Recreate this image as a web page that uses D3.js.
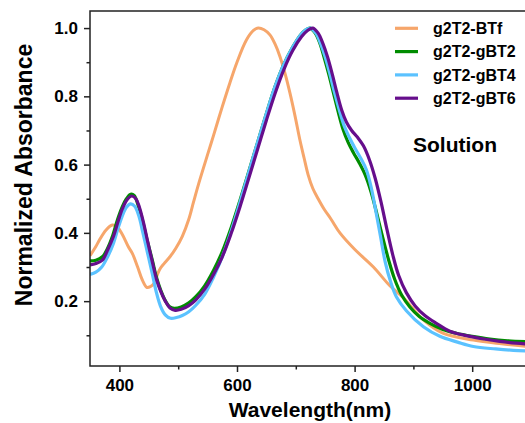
<!DOCTYPE html>
<html lang="en">
<head>
  <meta charset="UTF-8">
  <script src="https://d3js.org/d3.v7.min.js"></script>
  <style>
    body { margin: 0; background: #fff; }
    text { font-family: "Liberation Sans", Arial, sans-serif; font-weight: bold; fill: #000; }
  </style>
</head>
<body>
  <svg id="chart" width="525" height="423"></svg>
  <script>
    // data
    const btfWl = [350, 360, 366, 377, 388, 396, 405, 415, 422, 431, 439, 447, 453, 459, 465, 470, 476, 486, 496, 507, 518, 526, 535, 551, 560, 575, 588, 600, 616, 628, 636, 646, 656, 665, 673, 682, 690, 699, 707, 714, 721, 729, 738, 748, 760, 775, 800, 832, 860, 883, 917, 950, 1002, 1050, 1100];
    const btfAbs = [0.333, 0.36, 0.379, 0.408, 0.423, 0.418, 0.395, 0.36, 0.34, 0.30, 0.262, 0.24, 0.243, 0.252, 0.28, 0.297, 0.31, 0.33, 0.355, 0.39, 0.44, 0.49, 0.545, 0.635, 0.685, 0.77, 0.84, 0.9, 0.965, 0.993, 1.0, 0.995, 0.98, 0.952, 0.917, 0.865, 0.81, 0.74, 0.672, 0.62, 0.57, 0.53, 0.50, 0.47, 0.44, 0.40, 0.352, 0.30, 0.245, 0.21, 0.145, 0.106, 0.086, 0.075, 0.066];

    const gbt2Wl = [350, 360, 371, 380, 388, 397, 405, 412, 419, 425, 432, 439, 447, 456, 463, 470, 477, 485, 493, 505, 518, 530, 545, 560, 575, 590, 605, 620, 635, 650, 665, 680, 695, 708, 717, 724, 733, 741, 748, 756, 764, 772, 780, 789, 798, 808, 818, 828, 838, 848, 858, 868, 880, 894, 910, 928, 950, 973, 1000, 1030, 1060, 1100];
    const gbt2Abs = [0.318, 0.32, 0.33, 0.355, 0.389, 0.44, 0.477, 0.50, 0.513, 0.51, 0.48, 0.438, 0.38, 0.32, 0.27, 0.233, 0.205, 0.184, 0.179, 0.183, 0.195, 0.213, 0.245, 0.29, 0.345, 0.415, 0.495, 0.58, 0.665, 0.75, 0.83, 0.895, 0.945, 0.98, 0.995, 1.0, 0.985, 0.955, 0.915, 0.865, 0.81, 0.755, 0.705, 0.665, 0.635, 0.605, 0.57, 0.52, 0.455, 0.385, 0.32, 0.265, 0.218, 0.183, 0.155, 0.135, 0.117, 0.106, 0.097, 0.089, 0.084, 0.081];

    const gbt4Wl = [350, 360, 370, 380, 390, 398, 405, 412, 419, 426, 433, 440, 448, 456, 463, 470, 478, 487, 497, 507, 518, 530, 545, 560, 575, 590, 605, 620, 635, 650, 665, 680, 695, 708, 717, 725, 734, 742, 750, 758, 766, 774, 782, 791, 800, 810, 820, 828, 836, 844, 852, 861, 871, 888, 917, 945, 975, 1002, 1040, 1070, 1100];
    const gbt4Abs = [0.278, 0.285, 0.30, 0.33, 0.37, 0.415, 0.45, 0.475, 0.485, 0.478, 0.45, 0.40, 0.34, 0.28, 0.225, 0.185, 0.16, 0.15, 0.152, 0.158, 0.169, 0.188, 0.22, 0.27, 0.33, 0.405, 0.49, 0.578, 0.665, 0.75, 0.83, 0.895, 0.945, 0.98, 0.995, 1.0, 0.985, 0.955, 0.915, 0.865, 0.81, 0.76, 0.715, 0.68, 0.65, 0.62, 0.585, 0.535, 0.465, 0.39, 0.315, 0.258, 0.213, 0.172, 0.125, 0.097, 0.08, 0.067, 0.06, 0.056, 0.054];

    const gbt6Wl = [350, 360, 371, 380, 390, 398, 405, 413, 421, 428, 434, 441, 448, 456, 463, 470, 478, 486, 495, 505, 518, 530, 545, 560, 575, 590, 605, 620, 635, 650, 665, 680, 695, 710, 720, 729, 738, 746, 754, 762, 770, 778, 786, 795, 805, 815, 825, 835, 845, 855, 865, 875, 888, 903, 920, 939, 962, 990, 1020, 1047, 1075, 1100];
    const gbt6Abs = [0.306, 0.31, 0.32, 0.35, 0.39, 0.435, 0.47, 0.497, 0.508, 0.50, 0.475, 0.43, 0.375, 0.315, 0.265, 0.23, 0.2, 0.18, 0.173, 0.176, 0.187, 0.204, 0.235, 0.278, 0.33, 0.398, 0.476, 0.56, 0.645, 0.73, 0.81, 0.88, 0.935, 0.975, 0.993, 1.0, 0.985, 0.955, 0.915, 0.865, 0.81, 0.76, 0.725, 0.70, 0.68, 0.655, 0.615, 0.56, 0.49, 0.41, 0.335, 0.275, 0.225, 0.186, 0.157, 0.135, 0.112, 0.099, 0.089, 0.082, 0.077, 0.074];

    const seriesNames = ["g2T2-BTf", "g2T2-gBT2", "g2T2-gBT4", "g2T2-gBT6"];
    const seriesColors = ["#f6a66b", "#008c00", "#5bc2ff", "#660e8c"];
    const xMajor = [400, 600, 800, 1000];
    const xMinor = [500, 700, 900];
    const yMajor = [0.2, 0.4, 0.6, 0.8, 1.0];
    const yMinor = [0.1, 0.3, 0.5, 0.7, 0.9];

    const series = [
      { wl: btfWl, abs: btfAbs },
      { wl: gbt2Wl, abs: gbt2Abs },
      { wl: gbt4Wl, abs: gbt4Abs },
      { wl: gbt6Wl, abs: gbt6Abs }
    ].map((s, i) => ({
      name: seriesNames[i],
      color: seriesColors[i],
      points: s.wl.map((w, j) => [w, s.abs[j]])
    }));

    const svg = d3.select("#chart");
    const x = d3.scaleLinear().domain([350, 1100]).range([90, 531]);
    const y = d3.scaleLinear().domain([0.01, 1.05]).range([366, 11]);

    svg.append("defs").append("clipPath").attr("id", "clip")
      .append("rect").attr("x", 90).attr("y", 11).attr("width", 441).attr("height", 355);

    // curves
    const line = d3.line()
      .x(d => x(d[0]))
      .y(d => y(d[1]))
      .curve(d3.curveCatmullRom.alpha(0.5));

    svg.append("g").attr("clip-path", "url(#clip)")
      .selectAll("path.spec").data(series)
      .join("path")
      .attr("class", "spec")
      .attr("d", d => line(d.points))
      .attr("fill", "none")
      .attr("stroke", d => d.color)
      .attr("stroke-width", (d, i) => i === 0 ? 3 : 3.2)
      .attr("stroke-linejoin", "round");

    // frame
    svg.append("rect")
      .attr("x", 90).attr("y", 11).attr("width", 441).attr("height", 355)
      .attr("fill", "none").attr("stroke", "#222").attr("stroke-width", 1.5);

    // x axis
    svg.append("g").attr("transform", "translate(0,366)")
      .call(d3.axisBottom(x).tickValues(xMajor).tickSize(6).tickPadding(7).tickFormat(d3.format("d")));
    svg.append("g").attr("transform", "translate(0,366)")
      .call(d3.axisBottom(x).tickValues(xMinor).tickSize(3.5).tickFormat(""));

    // y axis
    svg.append("g").attr("transform", "translate(90,0)")
      .call(d3.axisLeft(y).tickValues(yMajor).tickSize(6).tickPadding(6).tickFormat(d3.format(".1f")));
    svg.append("g").attr("transform", "translate(90,0)")
      .call(d3.axisLeft(y).tickValues(yMinor).tickSize(3.5).tickFormat(""));

    svg.selectAll(".domain").remove();
    svg.selectAll(".tick line").attr("stroke", "#222").attr("stroke-width", 1.5);
    svg.selectAll(".tick text")
      .attr("font-family", "'Liberation Sans', Arial, sans-serif")
      .attr("font-weight", "bold")
      .attr("font-size", 17)
      .attr("fill", "#000");

    // axis titles
    svg.append("text")
      .attr("x", 310).attr("y", 417)
      .attr("text-anchor", "middle")
      .attr("font-size", 21)
      .text("Wavelength(nm)");

    svg.append("text")
      .attr("transform", "translate(32,175) rotate(-90)")
      .attr("text-anchor", "middle")
      .attr("font-size", 23)
      .text("Normalized Absorbance");

    // legend
    const legend = svg.append("g").selectAll("g").data(series).join("g")
      .attr("transform", (d, i) => `translate(395,${28.3 + i * 23.3})`);
    legend.append("line")
      .attr("x1", 0).attr("x2", 23)
      .attr("stroke", d => d.color).attr("stroke-width", 3.2);
    legend.append("text")
      .attr("x", 38).attr("dy", "0.35em")
      .attr("font-size", 16)
      .text(d => d.name);

    svg.append("text")
      .attr("x", 413).attr("y", 152)
      .attr("font-size", 21)
      .text("Solution");
  </script>
</body>
</html>
